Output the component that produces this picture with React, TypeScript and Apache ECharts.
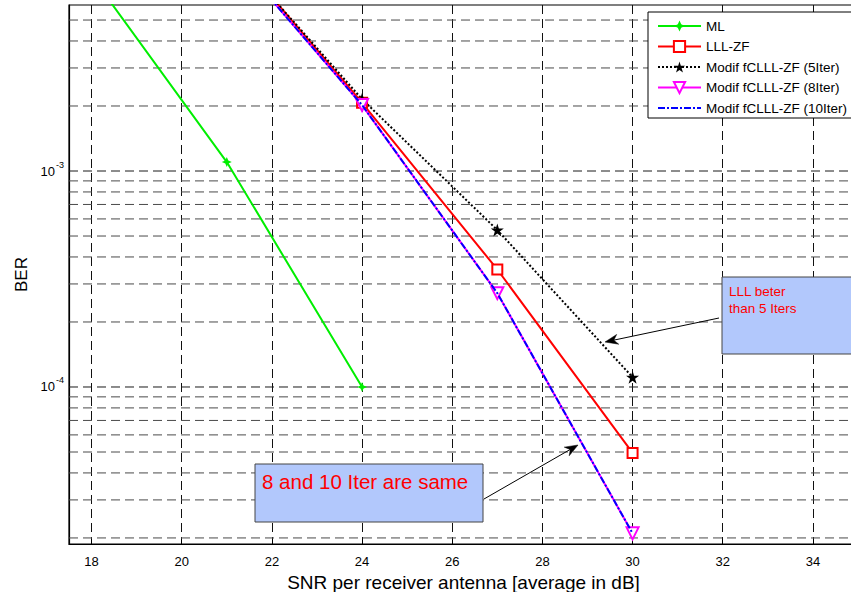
import React, { useEffect, useRef } from 'react';
import * as echarts from 'echarts';

// ---- data ----
const mlSNR = [18, 21, 24];
const mlBER = [8.0e-3, 1.1e-3, 1.0e-4];
const iterSNR = [21, 24, 27, 30];
const lllBER = [1.12e-2, 2.07e-3, 3.5e-4, 4.95e-5];
const it5BER = [1.1e-2, 2.15e-3, 5.33e-4, 1.11e-4];
const it8BER = [1.08e-2, 2.02e-3, 2.72e-4, 2.1e-5];
const it10BER = [1.08e-2, 2.02e-3, 2.72e-4, 2.1e-5];
const seriesNames = ['ML', 'LLL-ZF', 'Modif fCLLL-ZF (5Iter)', 'Modif fCLLL-ZF (8Iter)', 'Modif fCLLL-ZF (10Iter)'];
const majorGrid = [1e-4, 1e-3];
const minorGrid = [2e-5, 3e-5, 4e-5, 5e-5, 6e-5, 7e-5, 8e-5, 9e-5, 2e-4, 3e-4, 4e-4, 5e-4, 6e-4, 7e-4, 8e-4, 9e-4, 2e-3, 3e-3, 4e-3, 5e-3];
const xMin = 17.5;
const xMax = 35;
const yMin = 1.875e-5;
const yMax = 5.87e-3;
const xTitle = 'SNR per receiver antenna [average in dB]';
const yTitle = 'BER';
const note1 = 'LLL beter\nthan 5 Iters';
const note2 = '8 and 10 Iter are same';

const FONT = '"Liberation Sans", Arial, Helvetica, sans-serif';
const STAR = 'path://M10 0 L12.245 6.91 L19.51 6.91 L13.63 11.18 L15.88 18.09 L10 13.82 L4.12 18.09 L6.37 11.18 L0.49 6.91 L7.755 6.91 Z';
const STAR4 = 'path://M10 0 L13 7 L20 10 L13 13 L10 20 L7 13 L0 10 L7 7 Z';

const zip = (xs: number[], ys: number[]) => xs.map((x, i) => [x, ys[i]]);

function arrow(x1: number, y1: number, x2: number, y2: number) {
  const ang = Math.atan2(y2 - y1, x2 - x1);
  const L = 13, W = 5, N = 9;
  const ux = Math.cos(ang), uy = Math.sin(ang);
  const px = -uy, py = ux;
  const bx = x2 - ux * L, by = y2 - uy * L;
  const nx = x2 - ux * N, ny = y2 - uy * N;
  return [
    { type: 'line', shape: { x1, y1, x2: nx, y2: ny }, style: { stroke: '#000', lineWidth: 1 } },
    {
      type: 'polygon',
      shape: { points: [[x2, y2], [bx + px * W, by + py * W], [nx, ny], [bx - px * W, by - py * W]] },
      style: { fill: '#000', stroke: '#000', lineWidth: 0.5 },
    },
  ];
}

const gridSeries = (vals: number[], color: string) =>
  vals.map((v) => ({
    type: 'line',
    data: [[xMin, v], [xMax, v]],
    z: 1,
    silent: true,
    symbol: 'none',
    legendHoverLink: false,
    tooltip: { show: false },
    lineStyle: { color, type: [9, 5], width: 1 },
  }));

export default function App() {
  const ref = useRef<HTMLDivElement>(null);
  useEffect(() => {
    if (!ref.current) return;
    const chart = echarts.init(ref.current, undefined, { renderer: 'svg' });
    chart.setOption({
      animation: false,
      backgroundColor: '#fff',
      textStyle: { fontFamily: FONT },
      grid: {
        left: 69, right: 12, top: 5, bottom: 48,
        outerBoundsMode: 'none',
        containLabel: false,
        show: true, borderColor: '#000', borderWidth: 1.2, backgroundColor: 'transparent',
      },
      legend: {
        data: [
          { name: seriesNames[0] },
          { name: seriesNames[1] },
          { name: seriesNames[2] },
          { name: seriesNames[3] },
          { name: seriesNames[4], itemStyle: { opacity: 0 } },
        ],
        orient: 'vertical',
        left: 648,
        top: 12,
        padding: [7, 6, 3, 9],
        itemWidth: 43,
        itemHeight: 14,
        itemGap: 6.5,
        backgroundColor: '#fff',
        borderColor: '#000',
        borderWidth: 1,
        borderRadius: 0,
        textStyle: { fontFamily: FONT, fontSize: 13.5, color: '#000' },
      },
      xAxis: {
        type: 'value',
        min: xMin,
        max: xMax,
        splitNumber: 9,
        minInterval: 2,
        maxInterval: 2,
        name: xTitle,
        nameLocation: 'middle',
        nameGap: 19,
        nameTextStyle: { fontFamily: FONT, fontSize: 19, color: '#000' },
        axisLine: { show: true, onZero: false, lineStyle: { color: '#000', width: 1.2 } },
        axisTick: { show: true, inside: true, length: 5, lineStyle: { color: '#000' } },
        axisLabel: {
          fontFamily: FONT, fontSize: 13, color: '#000', margin: 11,
          showMinLabel: false, showMaxLabel: false,
          formatter: (v: number) => (Math.abs(v - Math.round(v)) < 1e-9 && Math.round(v) % 2 === 0 ? String(Math.round(v)) : ''),
        },
        splitLine: { show: true, lineStyle: { color: '#111', type: [9, 5], width: 1 } },
      },
      yAxis: {
        type: 'log',
        logBase: 10,
        min: yMin,
        max: yMax,
        name: yTitle,
        nameLocation: 'middle',
        nameGap: 37,
        nameTextStyle: { fontFamily: FONT, fontSize: 17, color: '#000' },
        axisLine: { show: true, lineStyle: { color: '#000', width: 1.2 } },
        axisTick: { show: false },
        splitLine: { show: false },
        axisLabel: {
          margin: 5,
          showMinLabel: false,
          showMaxLabel: false,
          formatter: (v: number) => {
            const e = Math.log10(v);
            if (Math.abs(e - Math.round(e)) > 1e-6) return '';
            return '{b|10}{s|' + Math.round(e) + '}';
          },
          rich: {
            b: { fontFamily: FONT, fontSize: 13, color: '#000', verticalAlign: 'middle' },
            s: { fontFamily: FONT, fontSize: 9, color: '#000', verticalAlign: 'middle', padding: [0, 0, 13, 1] },
          },
        },
      },
      series: [
        ...gridSeries(minorGrid, '#4a4a4a'),
        ...gridSeries(majorGrid, '#1a1a1a'),
        {
          name: seriesNames[0],
          type: 'line',
          data: zip(mlSNR, mlBER),
          z: 3,
          symbol: STAR4,
          symbolSize: 10,
          lineStyle: { color: '#00ee00', width: 2 },
          itemStyle: { color: '#00ee00' },
        },
        {
          name: seriesNames[1],
          type: 'line',
          data: zip(iterSNR, lllBER),
          z: 3,
          symbol: 'emptyRect',
          symbolSize: 10,
          lineStyle: { color: '#ff0000', width: 2 },
          itemStyle: { color: '#ff0000', borderWidth: 1.6 },
        },
        {
          name: seriesNames[2],
          type: 'line',
          data: zip(iterSNR, it5BER),
          z: 3,
          symbol: STAR,
          symbolSize: 13,
          lineStyle: { color: '#000', width: 2, type: [2, 2] },
          itemStyle: { color: '#000' },
        },
        {
          name: seriesNames[3],
          type: 'line',
          data: zip(iterSNR, it8BER),
          z: 3,
          symbol: 'emptyTriangle',
          symbolRotate: 180,
          symbolSize: 12,
          lineStyle: { color: '#ff00ff', width: 2 },
          itemStyle: { color: '#ff00ff', borderWidth: 1.6 },
        },
        {
          name: seriesNames[4],
          type: 'line',
          data: zip(iterSNR, it10BER),
          z: 4,
          symbol: 'none',
          lineStyle: { color: '#0000ff', width: 2, type: [7, 2, 2, 2] },
          itemStyle: { color: '#0000ff' },
        },
      ],
      graphic: [
        {
          type: 'rect',
          shape: { x: 722, y: 277, width: 150, height: 77 },
          style: { fill: '#b2c8fc', stroke: '#444', lineWidth: 1 },
          z: 10,
        },
        {
          type: 'text',
          x: 729,
          y: 283,
          style: { text: note1, fill: '#ff0000', fontFamily: FONT, fontSize: 13.5, lineHeight: 17 },
          z: 11,
        },
        {
          type: 'rect',
          shape: { x: 255, y: 464, width: 228, height: 58 },
          style: { fill: '#b2c8fc', stroke: '#444', lineWidth: 1 },
          z: 10,
        },
        {
          type: 'text',
          x: 262,
          y: 471,
          style: { text: note2, fill: '#ff0000', fontFamily: FONT, fontSize: 20.5 },
          z: 11,
        },
        ...arrow(719, 318, 605, 342).map((g) => ({ ...g, z: 10 })),
        ...arrow(484, 499, 578, 445).map((g) => ({ ...g, z: 10 })),
      ],
    });
    return () => chart.dispose();
  }, []);
  return (
    <div style={{ position: 'fixed', left: 0, top: 0, width: 851, height: 592, overflow: 'hidden', background: '#fff' }}>
      <div ref={ref} style={{ width: 870, height: 592 }} />
    </div>
  );
}
